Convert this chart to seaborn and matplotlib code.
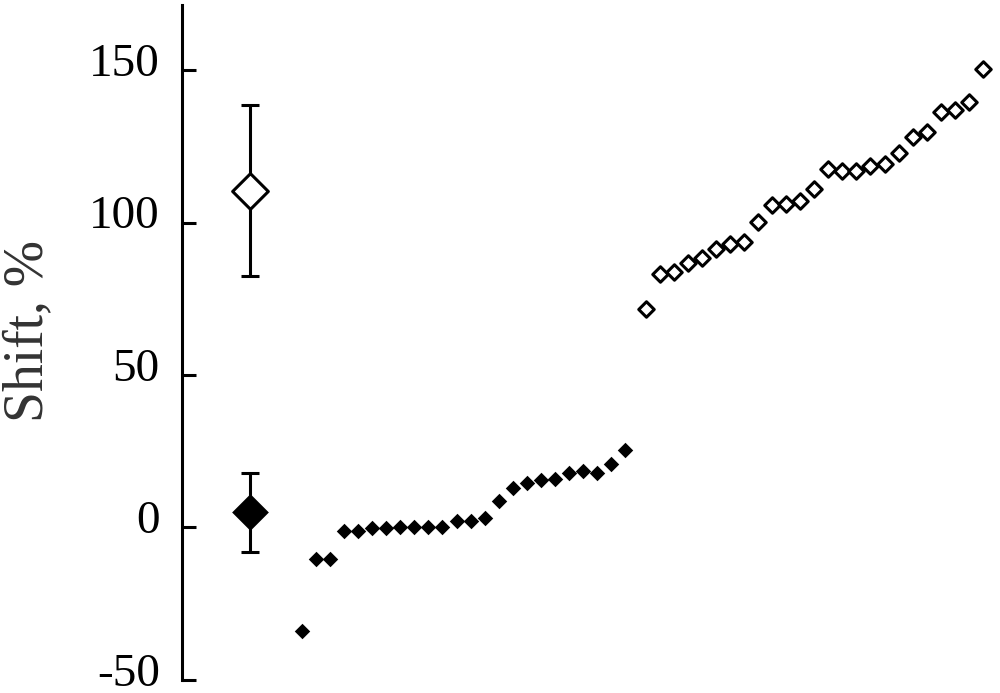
import numpy as np
import pandas as pd
import matplotlib
matplotlib.use("Agg")
import matplotlib.pyplot as plt
import matplotlib.transforms as mtransforms
import seaborn as sns

# individual shifts, sorted (filled = first group, open = second group)
filled_shift = [-34, -10.2, -10.2, -1, -1.3, -0.3, -0.3, 0.3, 0.3, 0.3, 0.3, 2,
                2, 3, 8.6, 13, 14.5, 15.5, 16, 18, 18.4, 18, 20.7, 25.3]
open_shift = [71.6, 83.3, 83.7, 86.9, 88.4, 91.5, 93, 93.7, 100.4, 105.9, 106.1,
              107, 111, 117.6, 116.9, 116.9, 118.5, 119.3, 122.9, 128, 129.7,
              136.3, 137, 139.6, 150.5]

# group means with error bars
mean_labels = ["filled", "open"]
mean_shift = [5, 110.5]
mean_err = [13, 28]

yticks = [-50, 0, 50, 100, 150]

gap = 0.46
summary_pos = -2.7
filled_rank = np.arange(1, len(filled_shift) + 1)
open_rank = np.arange(1, len(open_shift) + 1) + len(filled_shift) + gap

df_filled = pd.DataFrame({"rank": filled_rank, "shift": filled_shift})
df_open = pd.DataFrame({"rank": open_rank, "shift": open_shift})
df_mean = pd.DataFrame({"group": mean_labels, "shift": mean_shift, "err": mean_err})
df_mean["pos"] = summary_pos

sns.set_style("white")
plt.rcParams["font.family"] = ["Liberation Serif", "DejaVu Serif"]

fig = plt.figure(figsize=(10, 6.93), dpi=100)
ax = fig.add_axes([0.182, 0.019, 0.818, 0.974])

ax.errorbar(df_mean["pos"], df_mean["shift"], yerr=df_mean["err"], fmt="none",
            ecolor="black", elinewidth=2.2, capsize=6.5, capthick=2.2, zorder=1)

sns.scatterplot(data=df_filled, x="rank", y="shift", marker="D", s=62,
                color="black", edgecolor="black", linewidth=0, ax=ax, zorder=3)
sns.scatterplot(data=df_open, x="rank", y="shift", marker="D", s=62,
                facecolor="white", edgecolor="black", linewidth=2.2, ax=ax, zorder=3)

m = df_mean[df_mean["group"] == "filled"]
sns.scatterplot(data=m, x="pos", y="shift", marker="D", s=350, color="black",
                edgecolor="black", linewidth=0, ax=ax, zorder=3)
m = df_mean[df_mean["group"] == "open"]
sns.scatterplot(data=m, x="pos", y="shift", marker="D", s=330, facecolor="white",
                edgecolor="black", linewidth=2.2, ax=ax, zorder=3)

ax.set_xlim(-7.54, 50.68)
ax.set_ylim(-50, 171.5)
ax.set_yticks(yticks)
ax.set_yticklabels([str(t) for t in yticks], fontsize=34)
ax.tick_params(axis="y", direction="in", length=10, width=2.2, pad=16, left=True,
               color="black", labelcolor="black")
# labels sit a little above their ticks in the original
shift_up = mtransforms.ScaledTranslation(0, 0.105, fig.dpi_scale_trans)
for lab in ax.get_yticklabels():
    lab.set_transform(lab.get_transform() + shift_up)

ax.set_xticks([])
ax.set_xlabel("")
ax.set_ylabel("Shift, %", fontsize=40, color="#333333")
ax.yaxis.set_label_coords(-0.156, 0.517)

for side in ["top", "right", "bottom"]:
    ax.spines[side].set_visible(False)
ax.spines["left"].set_linewidth(2.2)
ax.spines["left"].set_color("black")

fig.savefig("out.png", dpi=100)
